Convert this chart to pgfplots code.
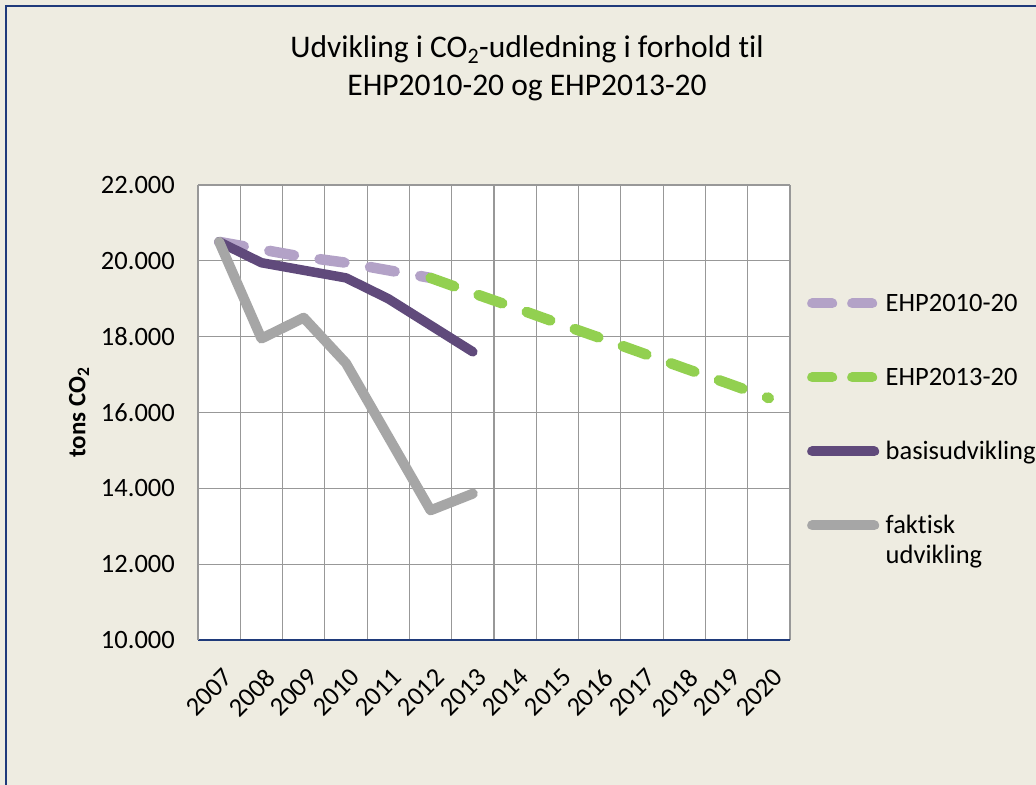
\documentclass[border=0pt]{standalone}
\usepackage{pgfplots}
\pgfplotsset{compat=1.18}
\usepackage{fontspec}
\setmainfont{Carlito}[Ligatures=NoCommon]
\definecolor{bgc}{RGB}{238,236,225}
\definecolor{navyc}{RGB}{31,58,122}
\definecolor{gridc}{RGB}{152,152,152}
\definecolor{lpurple}{RGB}{179,162,199}
\definecolor{greenc}{RGB}{146,208,80}
\definecolor{dpurple}{RGB}{96,74,123}
\definecolor{grayc}{RGB}{166,166,166}

\pgfplotstableread{
x y
0 20500
1 20300
2 20100
3 19950
4 19750
5 19550
}\ehpa
\pgfplotstableread{
x y
5 19550
6 19150
7 18760
8 18360
9 17970
10 17570
11 17170
12 16780
13 16380
}\ehpb
\pgfplotstableread{
x y
0 20500
1 19950
2 19750
3 19550
4 19000
5 18300
6 17600
}\basis
\pgfplotstableread{
x y
0 20500
1 17950
2 18500
3 17300
4 15360
5 13420
6 13860
}\faktisk

\begin{document}
\begin{tikzpicture}
\fill[bgc] (0,0) rectangle (1036bp,785bp);
\begin{axis}[
  at={(198bp,145bp)}, anchor=south west,
  scale only axis, width=592bp, height=455bp,
  xmin=-0.5, xmax=13.5, ymin=10000, ymax=22000,
  scaled y ticks=false,
  axis background/.style={fill=white},
  axis x line*=bottom, axis y line*=left,
  x axis line style={draw=navyc, line width=1.3bp},
  y axis line style={draw=gridc, line width=1.1bp},
  xtick={0,...,13},
  xticklabels={2007,2008,2009,2010,2011,2012,2013,2014,2015,2016,2017,2018,2019,2020},
  minor xtick={-0.5,0.5,...,13.5},
  ytick={10000,12000,...,22000},
  yticklabels={10.000,12.000,14.000,16.000,18.000,20.000,22.000},
  xmajorgrids=false, xminorgrids=true, ymajorgrids=true,
  grid style={draw=gridc, line width=1.1bp},
  minor grid style={draw=gridc, line width=1.1bp},
  major tick length=0pt, minor tick length=0pt,
  tick label style={font=\fontsize{26.5bp}{30bp}\selectfont, inner sep=0bp},
  xticklabel style={xshift=3bp, yshift=-27bp, rotate=45, anchor=north east},
  yticklabel style={xshift=-23bp, anchor=east},
  ylabel={tons CO\textsubscript{2}},
  every axis y label/.style={at={(axis description cs:-0.201,0.5)}, rotate=90, anchor=center, font=\fontsize{25bp}{30bp}\selectfont\bfseries},
  legend image code/.code={\draw[#1] (0bp,2bp) -- (62bp,2bp);},
  legend cell align=left,
  legend style={at={(1.0287,0.7655)}, anchor=north west, draw=none, fill=none, inner sep=0bp,
    font=\fontsize{26.5bp}{33bp}\selectfont, row sep=47bp, column sep=6.5bp,
    nodes={text height=20bp, text depth=7bp, inner sep=0bp}},
]
\addplot[forget plot, lpurple, line width=10.5bp, line cap=round, line join=round, dash pattern=on 25bp off 26bp] table[x=x,y=y] {\ehpa};
\addplot[forget plot, greenc, line width=10.5bp, line cap=round, line join=round, dash pattern=on 25bp off 26bp] table[x=x,y=y] {\ehpb};
\addplot[forget plot, dpurple, line width=9.5bp, line cap=round, line join=round] table[x=x,y=y] {\basis};
\addplot[forget plot, grayc, line width=10bp, line cap=round, line join=round] table[x=x,y=y] {\faktisk};
\addlegendimage{lpurple, line width=10bp, line cap=round, dash pattern=on 20bp off 20bp}
\addlegendentry{EHP2010-20}
\addlegendimage{greenc, line width=10bp, line cap=round, dash pattern=on 20bp off 20bp}
\addlegendentry{EHP2013-20}
\addlegendimage{dpurple, line width=10bp, line cap=round}
\addlegendentry{basisudvikling}
\addlegendimage{grayc, line width=10bp, line cap=round}
\addlegendentry{\begin{tabular}[t]{@{}l@{}}faktisk\\[-3bp]udvikling\end{tabular}}
\end{axis}
\node[anchor=base, font=\fontsize{31.5bp}{38bp}\selectfont] at (527bp,727bp) {Udvikling i CO\textsubscript{2}-udledning i forhold til};
\node[anchor=base, font=\fontsize{31.5bp}{38bp}\selectfont] at (527bp,689bp) {EHP2010-20 og EHP2013-20};
\draw[navyc, line width=2.2bp] (6bp,-10bp) -- (6bp,779bp) -- (1050bp,779bp);
\pgfresetboundingbox
\path[use as bounding box] (0,0) rectangle (1036bp,785bp);
\end{tikzpicture}
\end{document}
